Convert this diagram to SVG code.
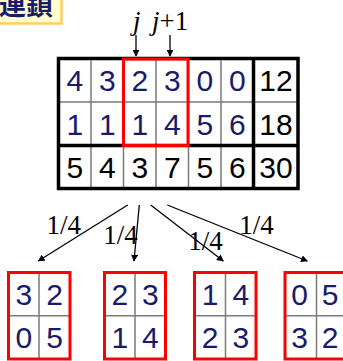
<svg xmlns="http://www.w3.org/2000/svg" width="343" height="361" viewBox="0 0 343 361">
<style>
.d{font-family:"Liberation Sans",Arial,sans-serif;font-size:30px;text-anchor:middle;fill:#1a1a6a}
.k{fill:#000}
.t{font-family:"Liberation Serif","Times New Roman",serif;font-size:27px;fill:#000}
.thin{stroke:#7a7a7a;stroke-width:1.5;fill:none}
.thick{stroke:#000;stroke-width:3.5;fill:none}
.red{stroke:#ff0000;stroke-width:3;fill:none}
.arr{stroke:#000;stroke-width:1.3;fill:none;marker-end:url(#ah)}
</style>
<defs>
<marker id="ah" viewBox="0 0 10 10" refX="9" refY="5" markerWidth="7" markerHeight="7" markerUnits="userSpaceOnUse" orient="auto">
<path d="M0,0 L10,5 L0,10 z" fill="#000"/>
</marker>
</defs>
<rect width="343" height="361" fill="#fff"/>
<g id="title">
<rect x="-5" y="-5" width="66.5" height="28.5" fill="#ffffcc" stroke="#ffcc66" stroke-width="2.5"/>
<text x="53" y="15" font-family="'Noto Sans CJK JP',sans-serif" font-size="27" font-weight="bold" fill="#1a1a6a" text-anchor="end">連鎖</text>
</g>
<g id="labels-top">
<text class="t" x="133" y="30" font-style="italic">j</text>
<text class="t" x="152" y="30"><tspan font-style="italic">j</tspan>+1</text>
</g>
<g id="main-table">
<rect x="58.5" y="58.5" width="239.5" height="130" fill="#fff"/>
<path class="thin" d="M91,58.5V188.5M123.5,58.5V188.5M156,58.5V188.5M188.5,58.5V188.5M221,58.5V188.5M58.5,102H298"/>
<path class="thick" d="M253.5,58.5V188.5M58.5,145.5H298"/>
<rect class="thick" x="58.5" y="58.5" width="239.5" height="130"/>
<rect class="red" x="123.5" y="59" width="64.5" height="86.5"/>
<text class="d" x="74.75" y="91">4</text><text class="d" x="107.25" y="91">3</text><text class="d" x="139.75" y="91">2</text><text class="d" x="172.25" y="91">3</text><text class="d" x="204.75" y="91">0</text><text class="d" x="237.25" y="91">0</text><text class="d k" x="276" y="91">12</text>
<text class="d" x="74.75" y="134.5">1</text><text class="d" x="107.25" y="134.5">1</text><text class="d" x="139.75" y="134.5">1</text><text class="d" x="172.25" y="134.5">4</text><text class="d" x="204.75" y="134.5">5</text><text class="d" x="237.25" y="134.5">6</text><text class="d k" x="276" y="134.5">18</text>
<text class="d k" x="74.75" y="177.7">5</text><text class="d k" x="107.25" y="177.7">4</text><text class="d k" x="139.75" y="177.7">3</text><text class="d k" x="172.25" y="177.7">7</text><text class="d k" x="204.75" y="177.7">5</text><text class="d k" x="237.25" y="177.7">6</text><text class="d k" x="276" y="177.7">30</text>
</g>
<g id="connectors">
<line class="arr" x1="136" y1="35" x2="136" y2="56"/>
<line class="arr" x1="170" y1="35" x2="170" y2="56"/>
<line class="arr" x1="127.7" y1="205" x2="38.3" y2="261"/>
<line class="arr" x1="139.3" y1="205" x2="134" y2="261"/>
<line class="arr" x1="150.7" y1="205" x2="223.3" y2="261"/>
<line class="arr" x1="167.3" y1="205" x2="307.3" y2="261"/>
</g>
<g id="prob-labels">
<text class="t" x="46.5" y="233.5">1/4</text>
<text class="t" x="103.3" y="244">1/4</text>
<text class="t" x="188.3" y="250">1/4</text>
<text class="t" x="239.3" y="233.5">1/4</text>
</g>
<g id="box1">
<rect x="8.5" y="272.5" width="61.5" height="86.5" fill="#fff"/>
<path class="thin" d="M39,272.5V359M8.5,315.75H70"/>
<rect class="red" x="8.5" y="272.5" width="61.5" height="86.5"/>
<text class="d" x="23.75" y="304.7">3</text><text class="d" x="54.5" y="304.7">2</text>
<text class="d" x="23.75" y="348">0</text><text class="d" x="54.5" y="348">5</text>
</g>
<g id="box2">
<rect x="104.5" y="272.5" width="61" height="86.5" fill="#fff"/>
<path class="thin" d="M135,272.5V359M104.5,315.75H165.5"/>
<rect class="red" x="104.5" y="272.5" width="61" height="86.5"/>
<text class="d" x="119.75" y="304.7">2</text><text class="d" x="150.25" y="304.7">3</text>
<text class="d" x="119.75" y="348">1</text><text class="d" x="150.25" y="348">4</text>
</g>
<g id="box3">
<rect x="194.5" y="272.5" width="61.5" height="86.5" fill="#fff"/>
<path class="thin" d="M225.5,272.5V359M194.5,315.75H256"/>
<rect class="red" x="194.5" y="272.5" width="61.5" height="86.5"/>
<text class="d" x="210" y="304.7">1</text><text class="d" x="240.75" y="304.7">4</text>
<text class="d" x="210" y="348">2</text><text class="d" x="240.75" y="348">3</text>
</g>
<g id="box4">
<rect x="285" y="272.5" width="62" height="86.5" fill="#fff"/>
<path class="thin" d="M316.5,272.5V359M285,315.75H347"/>
<rect class="red" x="285" y="272.5" width="62" height="86.5"/>
<text class="d" x="299.5" y="304.7">0</text><text class="d" x="330" y="304.7">5</text>
<text class="d" x="299.5" y="348">3</text><text class="d" x="330" y="348">2</text>
</g>
</svg>
